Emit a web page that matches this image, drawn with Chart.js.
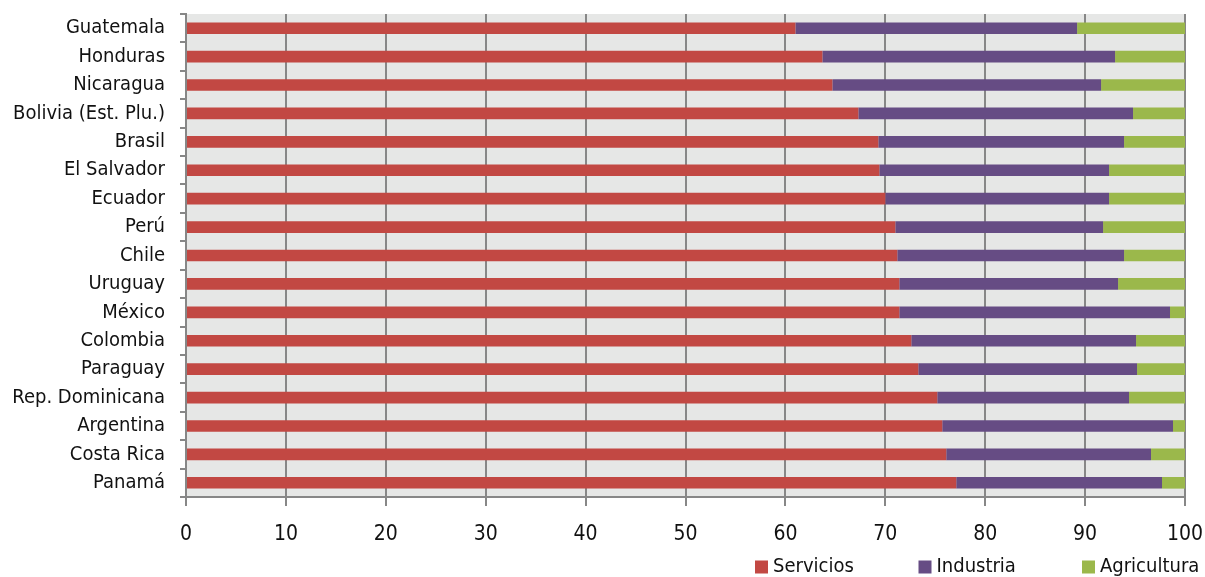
<!DOCTYPE html>
<html>
<head>
<meta charset="utf-8">
<script src="https://cdn.jsdelivr.net/npm/chart.js@4/dist/chart.umd.min.js"></script>
<style>
  html, body { margin: 0; padding: 0; background: #ffffff; }
  #wrap { width: 1205px; height: 577px; position: relative; }
</style>
</head>
<body>
<div id="wrap"><canvas id="c" width="1205" height="577"></canvas></div>
<script>
// Países ordenados por la participación de los servicios
const countries = [
  "Guatemala", "Honduras", "Nicaragua", "Bolivia (Est. Plu.)", "Brasil",
  "El Salvador", "Ecuador", "Perú", "Chile", "Uruguay", "México",
  "Colombia", "Paraguay", "Rep. Dominicana", "Argentina", "Costa Rica", "Panamá"
];
const servicios   = [61.0, 63.7, 64.7, 67.3, 69.3, 69.4, 70.0, 71.0, 71.2, 71.4, 71.4, 72.6, 73.3, 75.2, 75.7, 76.1, 77.1];
const industria   = [28.2, 29.3, 26.9, 27.5, 24.6, 23.0, 22.4, 20.8, 22.7, 21.9, 27.1, 22.5, 21.9, 19.2, 23.1, 20.5, 20.6];
const agricultura = [10.8,  7.0,  8.4,  5.2,  6.1,  7.6,  7.6,  8.2,  6.1,  6.7,  1.5,  4.9,  4.8,  5.6,  1.2,  3.4,  2.3];
const xTicks = [0, 10, 20, 30, 40, 50, 60, 70, 80, 90, 100];

const FONT = '"DejaVu Sans Condensed", "Liberation Sans Narrow", sans-serif';
const AXIS_GREY = '#878787';

// Fondo gris del área de trazado
const plotBackground = {
  id: 'plotBackground',
  beforeDraw(chart) {
    const { ctx, chartArea: a } = chart;
    ctx.save();
    ctx.fillStyle = '#e6e7e6';
    ctx.fillRect(a.left, a.top, a.right - a.left, a.bottom - a.top);
    ctx.restore();
  }
};

// Leyenda con casillas de ancho fijo, alineada a la derecha
const fixedLegend = {
  id: 'fixedLegend',
  afterDraw(chart, args, opts) {
    const { ctx } = chart;
    ctx.save();
    ctx.font = opts.fontSize + 'px ' + FONT;
    ctx.textBaseline = 'middle';
    ctx.textAlign = 'left';
    chart.data.datasets.forEach((ds, i) => {
      const x = opts.x + i * opts.step;
      ctx.fillStyle = ds.backgroundColor;
      ctx.fillRect(x, opts.y - opts.box / 2, opts.box, opts.box);
      ctx.fillStyle = '#111111';
      ctx.fillText(ds.label, x + opts.box + 5, opts.y);
    });
    ctx.restore();
  }
};

new Chart(document.getElementById('c'), {
  type: 'bar',
  data: {
    labels: countries,
    datasets: [
      { label: 'Servicios',   data: servicios,   backgroundColor: '#c24843' },
      { label: 'Industria',   data: industria,   backgroundColor: '#664c84' },
      { label: 'Agricultura', data: agricultura, backgroundColor: '#9bb84b' }
    ]
  },
  options: {
    indexAxis: 'y',
    responsive: false,
    animation: false,
    devicePixelRatio: 1,
    layout: { padding: { top: 14, right: 20, left: 0, bottom: 35 } },
    datasets: { bar: { categoryPercentage: 1.0, barPercentage: 0.41, borderWidth: 0 } },
    scales: {
      x: {
        stacked: true,
        min: 0, max: 100,
        afterBuildTicks(scale) { scale.ticks = xTicks.map(v => ({ value: v })); },
        afterFit(scale) { scale.height = 45; scale.paddingLeft = 0; scale.paddingRight = 0; },
        grid: { color: AXIS_GREY, lineWidth: 2, tickLength: 9, drawTicks: true },
        border: { display: true, color: AXIS_GREY, width: 2 },
        ticks: { color: '#111111', font: { family: FONT, size: 21 }, padding: 16, maxRotation: 0 }
      },
      y: {
        stacked: true,
        afterFit(scale) { scale.width = 186; scale.paddingTop = 0; scale.paddingBottom = 0; },
        grid: { drawOnChartArea: false, drawTicks: true, tickLength: 6, color: AXIS_GREY, lineWidth: 2, offset: true },
        border: { display: true, color: AXIS_GREY, width: 2 },
        ticks: { color: '#111111', font: { family: FONT, size: 20 }, padding: 15, autoSkip: false }
      }
    },
    plugins: {
      legend: { display: false },
      tooltip: { enabled: false },
      fixedLegend: { x: 755, y: 567, step: 163.5, box: 13, fontSize: 20 }
    }
  },
  plugins: [plotBackground, fixedLegend]
});
</script>
</body>
</html>
